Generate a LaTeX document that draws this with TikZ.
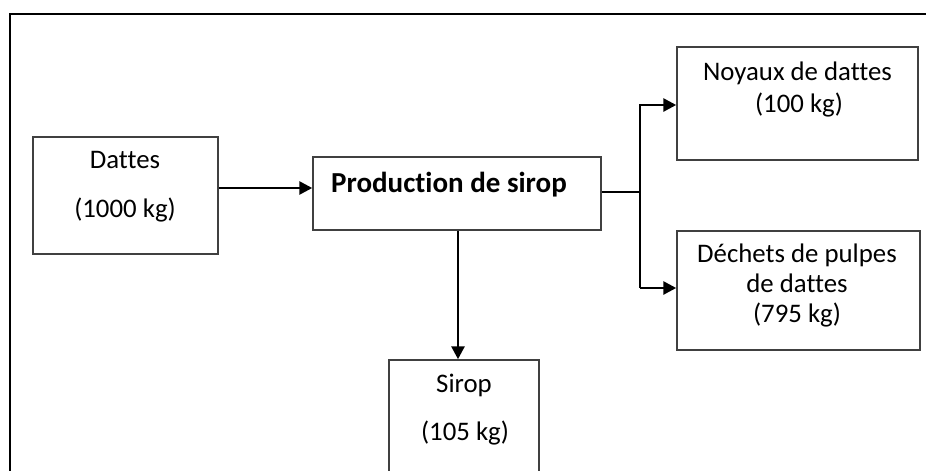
\documentclass[tikz,border=0pt]{standalone}
\usepackage{fontspec}
\setmainfont{Carlito}[Ligatures=NoCommon]
\usetikzlibrary{arrows.meta}
\tikzset{
  box/.style={draw=black!75, line width=1.5pt, inner sep=0pt},
  txt/.style={anchor=base, inner sep=0pt, font=\fontsize{26.8}{30}\selectfont},
  btxt/.style={anchor=base, inner sep=0pt, font=\fontsize{29}{33}\selectfont\bfseries},
  flow/.style={line width=2.8pt, -{Triangle[length=13pt,width=13pt]}},
  wire/.style={line width=2.8pt}
}
\begin{document}
\begin{tikzpicture}[x=1pt,y=-1pt]
\clip (0,0) rectangle (926,471);
\fill[white] (0,0) rectangle (926,471);
% outer frame
\draw[line width=2.7pt] (10,480) -- (10,14) -- (930,14);
% boxes
\node[box, minimum width=185pt, minimum height=117pt] (dattes) at (125.5,195.5) {};
\node[box, minimum width=288pt, minimum height=73pt] (prod) at (457,193.5) {};
\node[box, minimum width=241pt, minimum height=113pt] (noy) at (797.5,103.5) {};
\node[box, minimum width=243pt, minimum height=119pt] (dech) at (798.5,290.5) {};
\node[box, minimum width=150pt, minimum height=130pt] (sirop) at (464,425) {};
% texts
\node[txt] (t1) at (125,168) {Dattes};
\node[txt] (t2) at (125,217) {(1000 kg)};
\node[btxt] (t3) at (449,192) {Production de sirop};
\node[txt] (t4) at (797.5,80) {Noyaux de dattes};
\node[txt] (t5) at (799,112) {(100 kg)};
\node[txt] (t6) at (797,262) {Déchets de pulpes};
\node[txt] (t7) at (797,292) {de dattes};
\node[txt] (t8) at (797,322) {(795 kg)};
\node[txt] (t9) at (464,392) {Sirop};
\node[txt] (t10) at (465,440) {(105 kg)};
% connectors
\coordinate (j) at (640,192);
\draw[flow] (dattes.east |- 0,188) -- (prod.west |- 0,188);
\draw[wire] (prod.east |- j) -- (j);
\draw[wire] (640,104) -- (640,288);
\draw[flow] (640,105) -- (noy.west |- 0,105);
\draw[flow] (640,288) -- (dech.west |- 0,288);
\draw[flow] (prod.south -| 458,0) -- (sirop.north -| 458,0);
\end{tikzpicture}
\end{document}
